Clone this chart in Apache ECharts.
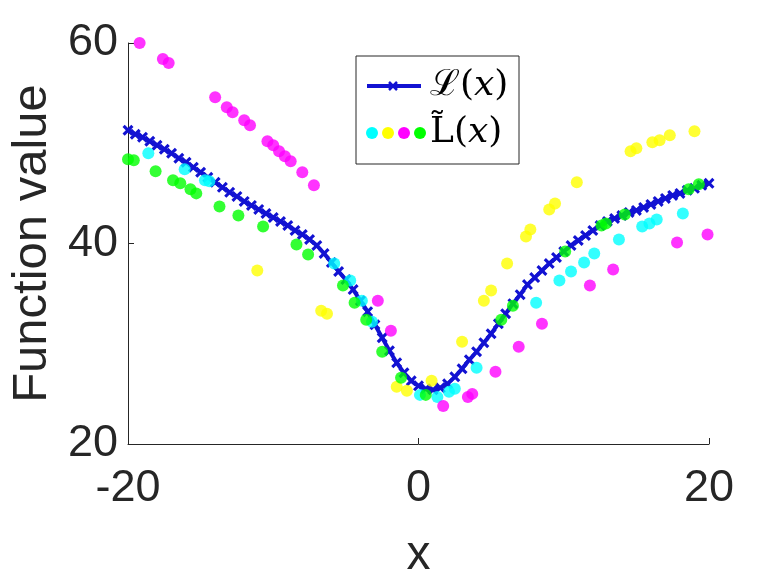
<!DOCTYPE html>
<html>
<head>
<meta charset="utf-8">
<script src="https://cdn.jsdelivr.net/npm/echarts@6/dist/echarts.min.js"></script>
<style>
html, body { margin: 0; padding: 0; background: #fff; }
#main { width: 780px; height: 585px; }
</style>
</head>
<body>
<div id="main"></div>
<script>
// L(x) curve, every 0.5
var lineX = [-20, -19.5, -19, -18.5, -18, -17.5, -17, -16.5, -16, -15.5, -15, -14.5, -14, -13.5, -13, -12.5,
    -12, -11.5, -11, -10.5, -10, -9.5, -9, -8.5, -8, -7.5, -7, -6.5, -6, -5.5, -5, -4.5, -4, -3.5, -3, -2.5,
    -2, -1.5, -1, -0.5, 0, 0.5, 1, 1.5, 2, 2.5, 3, 3.5, 4, 4.5, 5, 5.5, 6, 6.5, 7, 7.5, 8, 8.5, 9, 9.5, 10,
    10.5, 11, 11.5, 12, 12.5, 13, 13.5, 14, 14.5, 15, 15.5, 16, 16.5, 17, 17.5, 18, 18.5, 19, 19.5, 20];
var lineY = [51.3, 50.9, 50.6, 50.2, 49.8, 49.4, 49.0, 48.5, 48.1, 47.6, 47.1, 46.6, 46.1, 45.6, 45.1, 44.7,
    44.2, 43.8, 43.4, 43.0, 42.6, 42.2, 41.8, 41.3, 40.9, 40.4, 39.8, 39.0, 38.1, 37.2, 36.4, 35.4, 34.3, 33.2, 31.9, 30.6,
    29.3, 28.1, 27.1, 26.3, 25.8, 25.5, 25.4, 25.6, 26.0, 26.7, 27.5, 28.4, 29.2, 30.1, 31.0, 32.0, 33.0, 34.0, 34.9, 35.9, 36.6,
    37.3, 38.0, 38.6, 39.2, 39.8, 40.3, 40.8, 41.3, 41.8, 42.2, 42.5, 42.8, 43.1, 43.3, 43.6, 43.9, 44.2, 44.5, 44.8, 45.0,
    45.3, 45.5, 45.8, 46.0];

// L~(x) samples, four colours
var cyanX = [-18.6, -16.1, -14.7, -14.4, -5.8, -4.7, -3.9, -3.2, 0.1, 1.3, 2.1, 2.5, 4.0, 8.1, 9.7, 10.5, 11.4, 12.1, 13.8, 15.4, 15.9, 16.4, 18.2];
var cyanY = [49.0, 47.4, 46.3, 46.2, 38.0, 36.3, 34.3, 32.2, 24.9, 24.7, 25.2, 25.5, 27.6, 34.1, 36.3, 37.2, 38.1, 39.0, 40.4, 41.7, 42.0, 42.4, 43.0];

var yellowX = [-11.1, -6.7, -6.3, -1.5, -0.8, 0.9, 3.0, 4.5, 5.0, 6.1, 7.4, 7.7, 9.0, 9.4, 10.9, 14.6, 15.0, 16.1, 16.6, 17.3, 19.0];
var yellowY = [37.3, 33.3, 33.0, 25.7, 25.3, 26.3, 30.2, 34.3, 35.3, 38.0, 40.7, 41.4, 43.4, 44.0, 46.1, 49.2, 49.5, 50.1, 50.3, 50.8, 51.2];

var magentaX = [-19.2, -17.6, -17.2, -14.0, -13.2, -12.8, -12.0, -11.6, -10.4, -10.0, -9.6, -9.2, -8.8, -8.0, -7.2,
    -2.8, -1.9, 1.7, 3.4, 3.7, 5.3, 6.9, 8.5, 11.8, 13.4, 17.8, 19.9];
var magentaY = [60.0, 58.4, 58.0, 54.6, 53.6, 53.1, 52.3, 51.8, 50.2, 49.8, 49.2, 48.7, 48.2, 47.1, 45.8,
    34.3, 31.3, 23.8, 24.7, 25.0, 27.2, 29.7, 32.0, 35.8, 37.4, 40.1, 40.9];

var greenX = [-20.0, -19.6, -18.1, -16.9, -16.4, -15.7, -15.3, -13.7, -12.4, -10.7, -8.4, -7.6, -5.2, -4.4, -3.6, -2.5, -1.2, 0.5,
    5.7, 6.5, 10.1, 12.6, 12.9, 14.2, 18.6, 19.3];
var greenY = [48.4, 48.3, 47.2, 46.3, 46.0, 45.4, 45.0, 43.7, 42.8, 41.7, 39.9, 38.9, 35.8, 34.1, 32.4, 29.2, 26.6, 24.9,
    32.4, 33.8, 39.2, 41.8, 42.0, 42.9, 45.4, 45.9];

var xTicks = [-20, 0, 20];
var yTicks = [20, 40, 60];

var blue = '#1212d2';
var dotColors = ['#00ffff', '#ffff00', '#ff00ff', '#00ff00'];
var axisColor = '#262626';

function pairs(xs, ys) {
    return xs.map(function (v, i) { return [v, ys[i]]; });
}

var myChart = echarts.init(document.getElementById('main'));
// x shaped marker
var crossPath = 'path://M2,0 L5,3 L8,0 L10,2 L7,5 L10,8 L8,10 L5,7 L2,10 L0,8 L3,5 L0,2 Z';

function dotSeries(xs, ys, color) {
    return {
        type: 'scatter',
        data: pairs(xs, ys),
        symbol: 'circle',
        symbolSize: 12,
        itemStyle: { color: color },
        z: 3
    };
}

var legendText = {
    s: { fontFamily: 'DejaVu Serif', fontSize: 36, fill: '#000' },
    p: { fontFamily: 'DejaVu Serif', fontSize: 36, fill: '#000' },
    i: { fontFamily: 'DejaVu Serif', fontStyle: 'italic', fontSize: 36, fill: '#000' }
};

var option = {
    animation: false,
    backgroundColor: '#fff',
    grid: { left: 128, right: 71, top: 43, bottom: 134 },
    xAxis: {
        type: 'value',
        min: xTicks[0],
        max: xTicks[xTicks.length - 1],
        interval: 20,
        name: 'x',
        nameLocation: 'middle',
        nameGap: 88,
        nameTextStyle: { fontFamily: 'Liberation Sans', fontSize: 48, color: axisColor },
        axisLine: { onZero: false, lineStyle: { color: axisColor, width: 1 } },
        axisTick: { inside: true, length: 6, lineStyle: { color: axisColor } },
        axisLabel: { fontFamily: 'Liberation Sans', fontSize: 45, color: axisColor, margin: 22 },
        splitLine: { show: false }
    },
    yAxis: {
        type: 'value',
        min: yTicks[0],
        max: yTicks[yTicks.length - 1],
        interval: 20,
        name: 'Function value',
        nameLocation: 'middle',
        nameGap: 70,
        nameTextStyle: { fontFamily: 'Liberation Sans', fontSize: 49, color: axisColor },
        axisLine: { onZero: false, lineStyle: { color: axisColor, width: 1 } },
        axisTick: { inside: true, length: 6, lineStyle: { color: axisColor } },
        axisLabel: { fontFamily: 'Liberation Sans', fontSize: 45, color: axisColor, margin: 10 },
        splitLine: { show: false }
    },
    series: [
        {
            type: 'line',
            data: pairs(lineX, lineY),
            symbol: crossPath,
            symbolSize: 11,
            showAllSymbol: true,
            lineStyle: { color: blue, width: 4 },
            itemStyle: { color: blue },
            z: 2
        },
        dotSeries(cyanX, cyanY, dotColors[0]),
        dotSeries(yellowX, yellowY, dotColors[1]),
        dotSeries(magentaX, magentaY, dotColors[2]),
        dotSeries(greenX, greenY, dotColors[3])
    ],
    // legend box drawn by hand (two rows, the second with four colours)
    graphic: [
        { type: 'rect', shape: { x: 356, y: 56, width: 163, height: 108 },
          style: { fill: '#fff', stroke: axisColor, lineWidth: 1 }, z: 100 },
        { type: 'line', shape: { x1: 367, y1: 86, x2: 421, y2: 86 },
          style: { stroke: blue, lineWidth: 4 }, z: 101 },
        { type: 'line', shape: { x1: 389, y1: 82, x2: 397, y2: 90 },
          style: { stroke: blue, lineWidth: 2.5 }, z: 101 },
        { type: 'line', shape: { x1: 389, y1: 90, x2: 397, y2: 82 },
          style: { stroke: blue, lineWidth: 2.5 }, z: 101 },
        { type: 'circle', shape: { cx: 372, cy: 133, r: 6 }, style: { fill: dotColors[0] }, z: 101 },
        { type: 'circle', shape: { cx: 388, cy: 133, r: 6 }, style: { fill: dotColors[1] }, z: 101 },
        { type: 'circle', shape: { cx: 404, cy: 133, r: 6 }, style: { fill: dotColors[2] }, z: 101 },
        { type: 'circle', shape: { cx: 420, cy: 133, r: 6 }, style: { fill: dotColors[3] }, z: 101 },
        { type: 'text', x: 430, y: 86, z: 101,
          style: { text: '{s|ℒ}{p|(}{i|x}{p|)}', verticalAlign: 'middle', rich: legendText } },
        { type: 'text', x: 430, y: 133, z: 101,
          style: { text: '{s|L\u0303}{p|(}{i|x}{p|)}', verticalAlign: 'middle', rich: legendText } }
    ]
};

myChart.setOption(option);
</script>
</body>
</html>
